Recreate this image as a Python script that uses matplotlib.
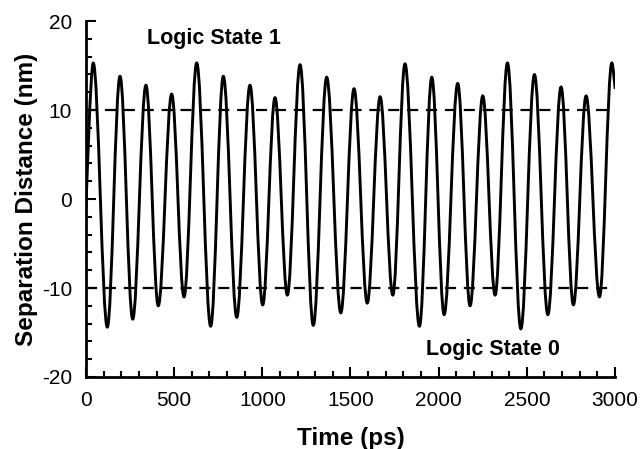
import matplotlib
matplotlib.use("Agg")
import matplotlib.pyplot as plt
from matplotlib.path import Path
from matplotlib.patches import PathPatch
from matplotlib.ticker import MultipleLocator

plt.rcParams['font.family'] = ['Liberation Sans', 'DejaVu Sans']
plt.rcParams['axes.unicode_minus'] = False

# turning points of the oscillation (ps, nm)
time_ps = [0, 41, 121, 193, 265, 340, 410, 486, 556, 628, 707, 779, 855,
           930, 1002, 1072, 1142, 1214, 1289, 1365, 1445, 1520, 1595, 1668,
           1740, 1809, 1891, 1961, 2031, 2108, 2178, 2250, 2320, 2390, 2466,
           2543, 2619, 2694, 2764, 2836, 2912, 2982, 3000]
separation_nm = [-1.0, 15.3, -14.4, 13.8, -13.5, 12.8, -12.0, 11.8, -11.0,
                 15.3, -14.3, 13.8, -13.3, 12.8, -11.9, 11.4, -10.8, 15.1,
                 -14.2, 13.7, -12.8, 12.4, -11.7, 11.5, -10.8, 15.2, -14.3,
                 13.7, -13.0, 13.0, -12.0, 11.6, -10.8, 15.3, -14.6, 14.0,
                 -13.0, 12.6, -11.9, 11.6, -11.0, 15.3, 12.5]

logic_levels = [10, -10]
logic_labels = ["Logic State 1", "Logic State 0"]
label_pos = [(345, 18.0), (1930, -16.9)]

x_ticks = [0, 500, 1000, 1500, 2000, 2500, 3000]
y_ticks = [-20, -10, 0, 10, 20]

fig = plt.figure(figsize=(6.44, 4.49), dpi=100)
ax = fig.add_axes([0.1335, 0.1604, 0.8215, 0.7926])

# smooth trace: cubic segments with flat tangents at each turning point
k = 0.36
n = len(time_ps)
verts = [(time_ps[0], separation_nm[0])]
codes = [Path.MOVETO]
for i in range(n - 1):
    t0, y0 = time_ps[i], separation_nm[i]
    t1, y1 = time_ps[i + 1], separation_nm[i + 1]
    dt = t1 - t0
    c1 = (t0 + k * dt, y0) if i > 0 else (t0, y0)
    c2 = (t1 - k * dt, y1) if i + 1 < n - 1 else (t1, y1)
    verts += [c1, c2, (t1, y1)]
    codes += [Path.CURVE4] * 3
ax.add_patch(PathPatch(Path(verts, codes), facecolor='none', edgecolor='black',
                       lw=2.1, capstyle='round', joinstyle='round', zorder=3))

ax.hlines(logic_levels, x_ticks[0], x_ticks[-1], colors='black', lw=1.6,
          linestyles=(0, (5, 3.5)), zorder=2)

for txt, (tx, ty) in zip(logic_labels, label_pos):
    ax.text(tx, ty, txt, fontsize=15.5, fontweight='bold', ha='left', va='center')

ax.set_xlim(x_ticks[0], x_ticks[-1])
ax.set_ylim(y_ticks[0], y_ticks[-1])
ax.set_xticks(x_ticks)
ax.set_yticks(y_ticks)
ax.xaxis.set_minor_locator(MultipleLocator(100))
ax.yaxis.set_minor_locator(MultipleLocator(2))
ax.tick_params(which='both', direction='in', width=1.5, labelsize=15)
ax.tick_params(axis='x', which='major', pad=10)
ax.tick_params(axis='y', which='major', pad=10)
ax.tick_params(which='major', length=7)
ax.tick_params(which='minor', length=4)
ax.spines['top'].set_visible(False)
ax.spines['right'].set_visible(False)
ax.spines['left'].set_linewidth(2)
ax.spines['bottom'].set_linewidth(2)

ax.set_xlabel("Time (ps)", fontsize=17.5, fontweight='bold', labelpad=12)
ax.set_ylabel("Separation Distance (nm)", fontsize=17.5, fontweight='bold', labelpad=3)

fig.savefig("out.png", dpi=100)
